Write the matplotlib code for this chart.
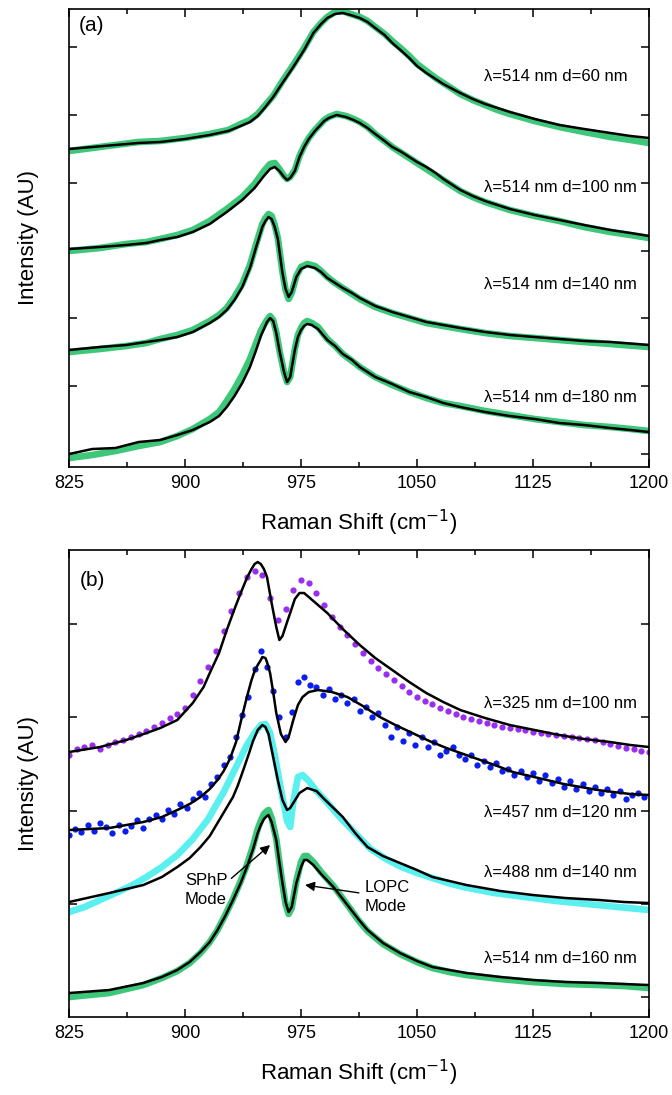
import numpy as np
import matplotlib
matplotlib.use("Agg")
import matplotlib.pyplot as plt

plt.rcParams['font.family'] = ['Liberation Sans', 'DejaVu Sans']

GREEN = '#3cc878'
PURPLE = '#9a2ef0'
BLUE = '#0a1ef0'
CYAN = '#5af0f0'

# ---------------- panel (a): 514 nm, varying diameter ----------------
a60_x = [825, 840, 855, 870, 884, 900, 916, 928, 936, 942, 947, 952, 957, 963, 970, 977, 983,
         988, 992, 997, 1002, 1007, 1013, 1018, 1023, 1029, 1034, 1040, 1045, 1050, 1056, 1062,
         1067, 1073, 1078, 1086, 1094, 1102, 1110, 1126, 1142, 1158, 1175, 1188, 1200]
a60_fit = [318, 320, 322, 324, 325, 328, 332, 336, 341, 345, 351, 360, 370, 384, 400, 417, 434,
           443, 449, 453, 454, 452, 449, 445, 439, 432, 424, 416, 409, 401, 394, 388,
           383, 378, 374, 368, 363, 359, 355, 348, 342, 338, 334, 331, 329]
a60_meas = [316, 319, 322, 325, 326, 329, 333, 337, 343, 347, 353, 362, 371, 386, 402, 419, 435,
            444, 450, 455, 456, 453, 450, 446, 440, 433, 426, 418, 411, 403, 396, 389,
            384, 378, 373, 367, 362, 357, 353, 346, 340, 335, 330, 327, 324]

a100_x = [825, 845, 862, 875, 884, 895, 905, 916, 927, 937, 945, 951, 955, 958, 961, 964, 966,
          968, 971, 974, 977, 980, 984, 987, 990, 993, 998, 1004, 1009, 1013, 1018, 1023, 1029,
          1034, 1040, 1045, 1050, 1056, 1062, 1067, 1073, 1078, 1086, 1094, 1102, 1110, 1126,
          1142, 1158, 1175, 1188, 1200]
a100_fit = [218, 220, 222, 224, 227, 230, 235, 243, 255, 267, 279, 291, 298, 300, 296, 290, 287,
            289, 296, 310, 320, 328, 336, 341, 346, 349, 352, 350, 347, 344, 339, 333, 326,
            320, 315, 310, 305, 300, 294, 288, 282, 277, 271, 266, 262, 258, 252,
            247, 242, 237, 234, 231]
a100_meas = [216, 219, 223, 225, 228, 232, 237, 246, 258, 270, 283, 296, 303, 304, 298, 291, 288,
             290, 297, 311, 321, 329, 337, 342, 347, 350, 353, 351, 348, 345, 340, 333, 326,
             320, 314, 309, 304, 298, 292, 287, 281, 276, 270, 265, 261, 257, 251,
             246, 240, 235, 232, 229]

a140_x = [825, 845, 862, 875, 884, 895, 905, 916, 922, 927, 932, 937, 942, 946, 950, 952, 954,
          956, 958, 960, 963, 965, 967, 969, 972, 975, 979, 984, 988, 992, 997, 1002, 1008,
          1013, 1018, 1023, 1034, 1045, 1056, 1067, 1078, 1094, 1110, 1126, 1142, 1158, 1175, 1200]
a140_fit = [117, 120, 122, 125, 127, 130, 135, 144, 150, 157, 167, 180, 199, 220, 240, 246, 250,
            248, 240, 228, 194, 178, 170, 175, 190, 198, 201, 199, 195, 189, 184, 179, 174,
            169, 165, 161, 155, 150, 145, 142, 139, 135, 132, 130, 128, 126, 125, 122]
a140_meas = [115, 118, 121, 124, 128, 132, 137, 146, 152, 159, 170, 183, 202, 223, 243, 249, 253,
             251, 242, 229, 195, 177, 168, 174, 191, 200, 203, 201, 196, 190, 184, 179, 173,
             168, 164, 160, 154, 149, 144, 141, 138, 134, 131, 129, 127, 125, 123, 120]

a180_x = [825, 840, 855, 870, 884, 895, 905, 916, 922, 927, 932, 937, 942, 946, 949, 951, 953,
          955, 957, 959, 961, 964, 966, 968, 971, 973, 975, 977, 979, 982, 986, 992, 997, 1002,
          1008, 1013, 1023, 1034, 1045, 1056, 1067, 1078, 1094, 1110, 1126, 1142, 1158, 1175,
          1188, 1200]
a180_fit = [13, 18, 19, 25, 27, 32, 37, 45, 51, 60, 71, 84, 100, 117, 131, 138, 145,
            149, 146, 134, 117, 95, 85, 90, 117, 130, 137, 141, 143, 142, 138, 127, 121, 113,
            107, 100, 90, 83, 75, 70, 64, 60, 55, 51, 48, 44, 42, 39,
            37, 35]
a180_meas = [9, 12, 16, 21, 25, 31, 38, 48, 55, 66, 78, 92, 108, 124, 136, 142, 147,
             151, 147, 135, 117, 95, 85, 90, 118, 132, 139, 144, 146, 144, 140, 128, 121, 113,
             106, 100, 90, 82, 75, 69, 64, 61, 56, 52, 48, 45, 42, 40,
             38, 36]

a_labels = ['λ=514 nm d=60 nm', 'λ=514 nm d=100 nm', 'λ=514 nm d=140 nm', 'λ=514 nm d=180 nm']
a_label_y = [390, 279, 183, 70]

# ---------------- panel (b): varying wavelength ----------------
p325_fit_x = [825, 845, 862, 875, 884, 895, 905, 912, 916, 922, 927, 932, 936, 940, 943, 945,
              947, 949, 951, 953, 956, 959, 961, 963, 966, 968, 971, 974, 977, 980, 986, 992,
              1002, 1013, 1023, 1034, 1045, 1056, 1067, 1078, 1094, 1110, 1126, 1142, 1158,
              1175, 1188, 1200]
p325_fit = [265, 270, 277, 284, 289, 297, 314, 330, 344, 364, 387, 408, 424, 439, 448, 453,
            455, 453, 448, 440, 414, 390, 377, 381, 395, 404, 418, 424, 424, 420, 412, 404,
            388, 372, 359, 347, 335, 324, 315, 307, 299, 292, 287, 282, 278,
            275, 272, 270]
p325_x = np.arange(825, 1201, 5)
p325 = [262, 268, 270, 272, 268, 272, 275, 277, 280, 283, 286, 290, 294, 299, 303, 309,
        322, 336, 350, 366, 386, 406, 424, 440, 446, 442, 419, 397, 408, 427, 437, 434,
        424, 412, 400, 390, 382, 373, 364, 356, 349, 343, 337, 331, 325, 320, 316, 313,
        309, 306, 303, 300, 298, 296, 294, 292, 290, 289, 288, 287, 285, 284, 283, 282,
        281, 280, 279, 278, 277, 275, 273, 271, 269, 268, 266, 265]

p457_fit_x = [825, 851, 873, 885, 895, 903, 910, 916, 921, 925, 929, 933, 936, 940, 943, 945,
              947, 949, 950, 952, 953, 955, 957, 959, 962, 965, 967, 970, 973, 976, 980, 986,
              995, 1005, 1015, 1026, 1036, 1047, 1058, 1069, 1080, 1091, 1102, 1112, 1123,
              1134, 1145, 1156, 1167, 1177, 1188, 1200]
p457_fit = [187, 189, 195, 200, 207, 213, 220, 228, 237, 246, 258, 275, 295, 320, 337, 346,
            352, 357, 360, 359, 355, 344, 325, 304, 283, 275, 280, 297, 312, 320, 325, 327,
            325, 320, 311, 300, 292, 284, 276, 269, 263, 257, 251, 245, 241,
            237, 233, 230, 227, 225, 223, 222]
p457_x = np.arange(825, 1200, 4)
p457 = [182, 188, 185, 192, 186, 194, 190, 184, 192, 186, 191, 197, 189, 198, 202, 198,
        207, 203, 213, 209, 218, 224, 220, 233, 240, 252, 260, 280, 302, 320, 348, 366,
        350, 326, 300, 280, 305, 335, 340, 332, 330, 322, 328, 318, 322, 314, 318, 306,
        310, 300, 304, 292, 280, 290, 276, 284, 272, 280, 270, 275, 262, 266, 270, 262,
        258, 262, 252, 256, 250, 254, 246, 248, 242, 246, 240, 244, 236, 242, 234, 238,
        230, 236, 228, 233, 226, 230, 224, 228, 222, 226, 218, 222, 224, 220]

p488_fit_x = [825, 851, 873, 885, 895, 903, 910, 916, 921, 926, 931, 934, 937, 941, 944, 947,
              950, 952, 954, 957, 960, 963, 966, 968, 970, 974, 979, 985, 990, 996, 1002, 1010,
              1018, 1028, 1039, 1050, 1060, 1071, 1082, 1093, 1104, 1125, 1146, 1168, 1184, 1200]
p488_fit = [115, 124, 132, 140, 150, 159, 170, 181, 194, 207, 220, 231, 244, 262, 276, 287,
            292, 290, 283, 260, 237, 217, 207, 209, 214, 224, 229, 226, 218, 209, 200, 184,
            170, 161, 154, 147, 140, 136, 132, 129, 126, 122, 119, 117, 115, 114]
p488_x = [825, 835, 845, 855, 865, 875, 885, 895, 905, 915, 925, 933, 940, 945, 949, 952, 955,
          958, 962, 966, 968, 970, 973, 976, 980, 985, 990, 1000, 1010, 1020, 1030, 1040,
          1050, 1060, 1070, 1080, 1090, 1100, 1120, 1140, 1160, 1180, 1200]
p488 = [105, 110, 117, 124, 131, 140, 150, 162, 178, 198, 225, 250, 272, 284, 292, 293, 284,
        262, 228, 196, 190, 215, 240, 242, 236, 226, 218, 200, 184, 168, 158, 150,
        144, 139, 134, 130, 127, 124, 120, 116, 113, 110, 107]

p514_x = [825, 851, 873, 885, 895, 903, 910, 916, 921, 926, 931, 936, 940, 944, 947, 949, 951,
          953, 954, 956, 959, 961, 963, 965, 967, 969, 972, 975, 977, 979, 983, 988, 996, 1006,
          1012, 1018, 1028, 1039, 1050, 1060, 1071, 1082, 1104, 1125, 1146, 1168, 1184, 1200]
p514_fit = [24, 27, 34, 40, 47, 55, 65, 75, 87, 101, 117, 134, 150, 168, 184, 192, 198,
            201, 202, 195, 177, 155, 134, 115, 105, 110, 134, 150, 157, 157, 152, 143, 130, 110,
            98, 87, 74, 64, 56, 50, 47, 44, 40, 37, 35, 34, 33, 32]
p514 = [20, 24, 32, 39, 46, 54, 64, 75, 87, 102, 118, 136, 152, 171, 188, 196, 203,
        206, 207, 199, 178, 155, 133, 113, 103, 109, 136, 155, 161, 161, 155, 145, 131, 110,
        97, 86, 73, 63, 55, 49, 45, 42, 38, 35, 33, 32, 31, 29]

b_labels = ['λ=325 nm d=100 nm', 'λ=457 nm d=120 nm', 'λ=488 nm d=140 nm', 'λ=514 nm d=160 nm']
b_label_y = [314, 205, 145, 59]


def style_axes(ax, ymax, ytick0, ystep):
    ax.set_xlim(825, 1200)
    ax.set_ylim(0, ymax)
    ax.set_xticks(np.arange(825, 1201, 75))
    ax.set_xticks(np.arange(825, 1201, 37.5), minor=True)
    ax.set_yticks(np.arange(ytick0, ymax, ystep))
    ax.set_yticklabels([])
    ax.tick_params(which='both', direction='in', top=True, right=True, width=1.1,
                   labelsize=13, pad=6)
    ax.tick_params(which='major', length=6)
    ax.tick_params(which='minor', length=3.5)
    ax.tick_params(axis='y', which='minor', left=False, right=False)
    for s in ax.spines.values():
        s.set_linewidth(1.2)
    ax.set_xlabel('Raman Shift (cm$^{-1}$)', fontsize=16, labelpad=11)
    ax.set_ylabel('Intensity (AU)', fontsize=16)
    ax.yaxis.set_label_coords(-0.052, 0.5)


fig = plt.figure(figsize=(6.72, 10.95), dpi=100)
ax1 = fig.add_axes([0.1027, 0.5735, 0.8631, 0.4183])
ax2 = fig.add_axes([0.1027, 0.0712, 0.8631, 0.4265])

# panel (a)
for x, meas, fit in [(a60_x, a60_meas, a60_fit), (a100_x, a100_meas, a100_fit),
                     (a140_x, a140_meas, a140_fit), (a180_x, a180_meas, a180_fit)]:
    ax1.plot(x, meas, color=GREEN, lw=4.8, solid_capstyle='round', solid_joinstyle='round', zorder=2)
    ax1.plot(x, fit, color='black', lw=1.8, solid_joinstyle='round', zorder=3)
for lab, y in zip(a_labels, a_label_y):
    ax1.text(1093, y, lab, fontsize=12, va='center', ha='left')
ax1.text(0.016, 0.965, '(a)', transform=ax1.transAxes, fontsize=15, va='center', ha='left')
style_axes(ax1, 458, 13, 67.8)

# panel (b)
ax2.plot(p325_x, p325, 'o', color=PURPLE, ms=4.5, mew=0, zorder=2)
ax2.plot(p457_x, p457, 'o', color=BLUE, ms=4.5, mew=0, zorder=2)
ax2.plot(p488_x, p488, color=CYAN, lw=4.8, solid_capstyle='round', solid_joinstyle='round', zorder=2)
ax2.plot(p514_x, p514, color=GREEN, lw=4.8, solid_capstyle='round', solid_joinstyle='round', zorder=2)
ax2.plot(p325_fit_x, p325_fit, color='black', lw=1.8, solid_joinstyle='round', zorder=3)
ax2.plot(p457_fit_x, p457_fit, color='black', lw=1.8, solid_joinstyle='round', zorder=3)
ax2.plot(p488_fit_x, p488_fit, color='black', lw=1.8, solid_joinstyle='round', zorder=3)
ax2.plot(p514_x, p514_fit, color='black', lw=1.8, solid_joinstyle='round', zorder=3)
for lab, y in zip(b_labels, b_label_y):
    ax2.text(1093, y, lab, fontsize=12, va='center', ha='left')
ax2.text(0.018, 0.935, '(b)', transform=ax2.transAxes, fontsize=15, va='center', ha='left')

ax2.annotate('SPhP\nMode', xy=(955, 172), xytext=(900, 127), fontsize=12,
             ha='left', va='center', linespacing=1.3,
             arrowprops=dict(arrowstyle='-|>', color='black', lw=1.0,
                             mutation_scale=14, relpos=(1.0, 0.75), shrinkA=1, shrinkB=0))
ax2.annotate('LOPC\nMode', xy=(977.6, 132), xytext=(1016, 120), fontsize=12,
             ha='left', va='center', linespacing=1.3,
             arrowprops=dict(arrowstyle='-|>', color='black', lw=1.0,
                             mutation_scale=14, relpos=(0.0, 0.6), shrinkA=2, shrinkB=0))
style_axes(ax2, 467, 20, 93.2)

fig.savefig('out.png', dpi=100)
